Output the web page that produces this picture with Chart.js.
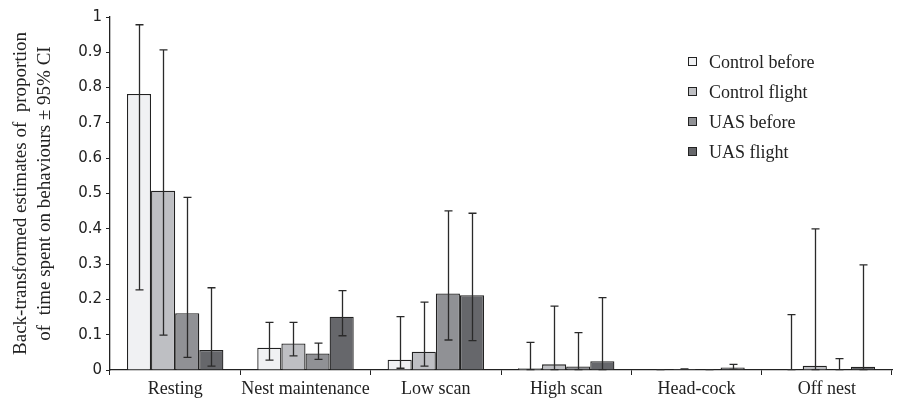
<!DOCTYPE html>
<html lang="en">
<head>
    <meta charset="UTF-8">
    <title>Time budget by behaviour</title>
    <script src="https://cdn.jsdelivr.net/npm/chart.js@4.4.0/dist/chart.umd.min.js"></script>
    <style>
        html, body { margin: 0; padding: 0; background: #fff; }
        #wrap { width: 899px; height: 401px; }
    </style>
</head>
<body>
    <div id="wrap"><canvas id="chart"></canvas></div>
    <script>
        // behaviours on the x axis
        const categories = ['Resting', 'Nest maintenance', 'Low scan', 'High scan', 'Head-cock', 'Off nest'];
        const seriesNames = ['Control before', 'Control flight', 'UAS before', 'UAS flight'];
        const seriesColors = ['#f0f1f3', '#bebfc3', '#909195', '#66676b'];

        // back-transformed estimates
        const controlBefore = [0.782, 0.063, 0.029, 0.005, 0.001, 0.002];
        const controlFlight = [0.508, 0.075, 0.052, 0.016, 0.003, 0.012];
        const uasBefore     = [0.161, 0.047, 0.217, 0.010, 0.001, 0.001];
        const uasFlight     = [0.057, 0.151, 0.212, 0.025, 0.007, 0.009];

        // 95% CI lower / upper
        const controlBeforeLo = [0.227, 0.028, 0.005, 0.001, 0.001, 0.001];
        const controlBeforeHi = [0.978, 0.135, 0.151, 0.078, 0.001, 0.157];
        const controlFlightLo = [0.099, 0.040, 0.011, 0.001, 0.003, 0.001];
        const controlFlightHi = [0.907, 0.135, 0.192, 0.181, 0.003, 0.400];
        const uasBeforeLo     = [0.036, 0.030, 0.085, 0.001, 0.001, 0.001];
        const uasBeforeHi     = [0.489, 0.076, 0.451, 0.106, 0.001, 0.032];
        const uasFlightLo     = [0.011, 0.097, 0.083, 0.001, 0.002, 0.001];
        const uasFlightHi     = [0.233, 0.225, 0.444, 0.205, 0.016, 0.298];

        const yTicks = [0, 0.1, 0.2, 0.3, 0.4, 0.5, 0.6, 0.7, 0.8, 0.9, 1];

        const values = [controlBefore, controlFlight, uasBefore, uasFlight];
        const lows = [controlBeforeLo, controlFlightLo, uasBeforeLo, uasFlightLo];
        const highs = [controlBeforeHi, controlFlightHi, uasBeforeHi, uasFlightHi];

        // draws the CI whiskers on top of the bars
        const errorBars = {
            id: 'errorBars',
            afterDatasetsDraw(chart) {
                const ctx = chart.ctx;
                const y = chart.scales.y;
                ctx.save();
                ctx.strokeStyle = '#2a2a2a';
                ctx.lineWidth = 1.3;
                chart.data.datasets.forEach((ds, i) => {
                    const meta = chart.getDatasetMeta(i);
                    meta.data.forEach((bar, j) => {
                        const x = Math.round(bar.x) + 0.5;
                        const top = y.getPixelForValue(highs[i][j]);
                        const bot = y.getPixelForValue(lows[i][j]);
                        ctx.beginPath();
                        ctx.moveTo(x, top);
                        ctx.lineTo(x, bot);
                        ctx.moveTo(x - 4, top);
                        ctx.lineTo(x + 4, top);
                        ctx.moveTo(x - 4, bot);
                        ctx.lineTo(x + 4, bot);
                        ctx.stroke();
                    });
                });
                ctx.restore();
            }
        };

        // legend box in the upper right of the plot
        const boxLegend = {
            id: 'boxLegend',
            afterDraw(chart) {
                const ctx = chart.ctx;
                ctx.save();
                ctx.font = '18px "Liberation Serif"';
                ctx.textBaseline = 'middle';
                chart.data.datasets.forEach((ds, i) => {
                    const ly = 62 + i * 30;
                    ctx.fillStyle = ds.backgroundColor;
                    ctx.fillRect(688.5, ly - 4.5, 8, 8);
                    ctx.strokeStyle = '#222';
                    ctx.lineWidth = 1;
                    ctx.strokeRect(688.5, ly - 4.5, 8, 8);
                    ctx.fillStyle = '#222';
                    ctx.fillText(ds.label, 709, ly + 1);
                });
                ctx.restore();
            }
        };

        new Chart(document.getElementById('chart'), {
            type: 'bar',
            data: {
                labels: categories,
                datasets: seriesNames.map((name, i) => ({
                    label: name,
                    data: values[i],
                    backgroundColor: seriesColors[i],
                    borderColor: '#222',
                    borderWidth: 1.3,
                    categoryPercentage: 0.74,
                    barPercentage: 1.0
                }))
            },
            options: {
                responsive: true,
                maintainAspectRatio: false,
                animation: false,
                layout: { padding: { top: 17, right: 7, left: 0, bottom: 0 } },
                plugins: {
                    legend: { display: false },
                    tooltip: { enabled: false }
                },
                scales: {
                    x: {
                        grid: {
                            display: true,
                            offset: true,
                            drawOnChartArea: false,
                            drawTicks: true,
                            tickLength: 5,
                            color: '#222'
                        },
                        border: { color: '#222', width: 1.3 },
                        ticks: {
                            color: '#222',
                            padding: 3,
                            maxRotation: 0,
                            minRotation: 0,
                            autoSkip: false,
                            font: { family: '"Liberation Serif"', size: 18 }
                        },
                        afterFit(scale) { scale.height = 31; }
                    },
                    y: {
                        min: 0,
                        max: 1,
                        afterBuildTicks(scale) {
                            scale.ticks = yTicks.map(v => ({ value: v }));
                        },
                        grid: {
                            display: true,
                            drawOnChartArea: false,
                            drawTicks: true,
                            tickLength: 4,
                            color: '#222'
                        },
                        border: { color: '#222', width: 1.3 },
                        ticks: {
                            color: '#222',
                            padding: 4,
                            font: { family: '"DejaVu Sans"', size: 15 },
                            callback: v => String(Math.round(v * 10) / 10)
                        },
                        title: {
                            display: true,
                            text: ['Back-transformed estimates of  proportion', 'of  time spent on behaviours ± 95% CI'],
                            color: '#222',
                            font: { family: '"Liberation Serif"', size: 19, lineHeight: 1.25 },
                            padding: { top: 9, bottom: 0 }
                        },
                        afterFit(scale) { scale.width = 110; }
                    }
                }
            },
            plugins: [errorBars, boxLegend]
        });
    </script>
</body>
</html>
